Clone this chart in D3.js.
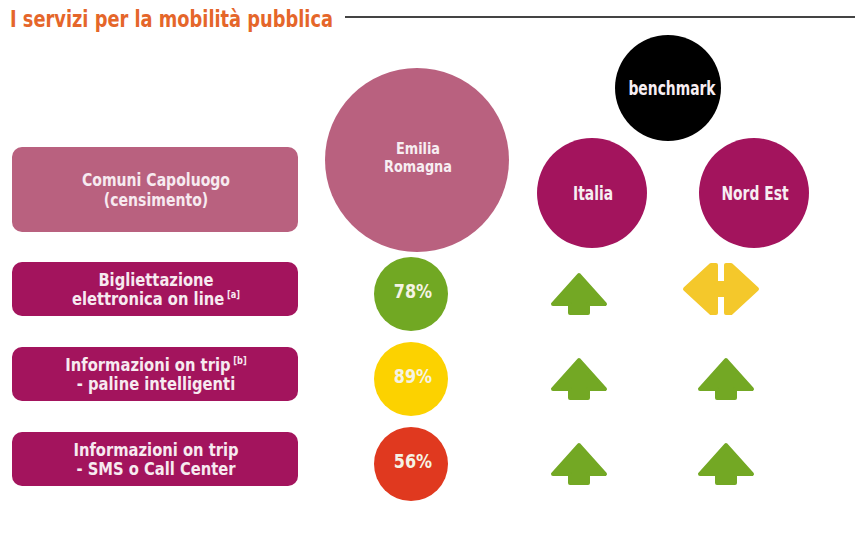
<!DOCTYPE html>
<html>
<head>
<meta charset="utf-8">
<script src="https://cdn.jsdelivr.net/npm/d3@7"></script>
<style>
  body { margin: 0; background: #fff; }
  svg { display: block; font-family: 'DejaVu Sans', sans-serif; font-weight: bold; }
</style>
</head>
<body>
<div id="chart"></div>
<script>
// DATA
const title = 'I servizi per la mobilità pubblica';
const headerLabel = ['Comuni Capoluogo', '(censimento)'];
const columns = ['Emilia Romagna', 'benchmark', 'Italia', 'Nord Est'];
const columnLabels = [['Emilia', 'Romagna'], ['benchmark'], ['Italia'], ['Nord Est']];
const serviceLines = [
  ['Bigliettazione', 'elettronica on line'],
  ['Informazioni on trip', '- paline intelligenti'],
  ['Informazioni on trip', '- SMS o Call Center']
];
const serviceNotes = [[null, '[a]'], ['[b]', null], [null, null]];
const emiliaValues = [78, 89, 56];
const emiliaLevel = ['medium', 'high', 'low'];
const italiaTrend = ['up', 'up', 'up'];
const nordEstTrend = ['equal', 'up', 'up'];

// colours
const pinkLight = '#b9617f';
const magenta = '#a3145d';
const levelColor = d3.scaleOrdinal().domain(['high', 'medium', 'low']).range(['#fcd200', '#71a823', '#e0391f']);
const trendColor = d3.scaleOrdinal().domain(['up', 'equal']).range(['#73a824', '#f4c82b']);
const headerColor = d3.scaleOrdinal().domain(columns).range([pinkLight, '#000', magenta, magenta]);

const width = 855, height = 535;
const svg = d3.select('#chart').append('svg').attr('width', width).attr('height', height);

// TITLE
svg.append('text')
  .attr('x', 10).attr('y', 27)
  .attr('fill', '#e5662a')
  .style('font-size', '23px')
  .attr('textLength', 323).attr('lengthAdjust', 'spacingAndGlyphs')
  .text(title);
svg.append('line')
  .attr('x1', 345).attr('x2', width).attr('y1', 17).attr('y2', 17)
  .attr('stroke', '#444').attr('stroke-width', 2);

// SCALES
// header circles (not aligned on the mark columns in the original)
const headX = d3.scaleOrdinal().domain(columns).range([417, 668, 592, 754]);
const headY = d3.scaleOrdinal().domain(columns).range([160, 88, 193, 193]);
const headR = d3.scaleOrdinal().domain(columns).range([92, 53, 55, 55]);
// mark columns
const colX = d3.scaleOrdinal().domain(['Emilia Romagna', 'Italia', 'Nord Est']).range([411, 579, 726]);
const rowY = d3.scaleLinear().domain([0, 2]).range([289, 459]);
const headerRowY = 189.5;

// text block centred on (cx, cy), squeezed horizontally (the original uses a condensed face)
function textBlock(parent, lines, notes, cx, cy, size, gap, sx, fill) {
  const g = parent.append('g')
    .attr('transform', `translate(${cx},${cy}) scale(${sx},1)`);
  lines.forEach((ln, i) => {
    const t = g.append('text')
      .attr('y', (i - (lines.length - 1) / 2) * gap)
      .attr('dy', '0.35em')
      .attr('text-anchor', 'middle')
      .attr('fill', fill)
      .style('font-size', size + 'px');
    t.append('tspan').text(ln);
    if (notes && notes[i]) {
      t.append('tspan').text(' ' + notes[i])
        .attr('dy', -7)
        .style('font-size', '10px');
    }
  });
  return g;
}

// LABEL BOXES
const boxX = 12, boxW = 286;
const header = svg.append('g');
header.append('rect')
  .attr('x', boxX).attr('y', headerRowY - 42.5)
  .attr('width', boxW).attr('height', 85)
  .attr('rx', 10).attr('fill', pinkLight);
textBlock(header, headerLabel, null, boxX + boxW / 2 + 1, headerRowY, 18.5, 20.5, 0.76, '#f7eaf0');

serviceLines.forEach((lines, i) => {
  const g = svg.append('g');
  g.append('rect')
    .attr('x', boxX).attr('y', rowY(i) - 27)
    .attr('width', boxW).attr('height', 54)
    .attr('rx', 10).attr('fill', magenta);
  textBlock(g, lines, serviceNotes[i], boxX + boxW / 2 + 1, rowY(i), 18, 19, 0.82, '#f7eaf0');
});

// HEADER CIRCLES
svg.selectAll('circle.head')
  .data(columns)
  .join('circle')
  .classed('head', true)
  .attr('cx', d => headX(d))
  .attr('cy', d => headY(d))
  .attr('r', d => headR(d))
  .attr('fill', d => headerColor(d));
columns.forEach((d, i) => {
  const big = d === 'Emilia Romagna';
  textBlock(svg, columnLabels[i], null,
    headX(d) + (d === 'benchmark' ? 4 : 1), headY(d) + (big ? -3 : 0),
    big ? 16.5 : 19, 18.5, big ? 0.78 : 0.73, '#f7eef2');
});

// EMILIA ROMAGNA VALUES
svg.selectAll('circle.val')
  .data(emiliaValues)
  .join('circle')
  .classed('val', true)
  .attr('cx', colX('Emilia Romagna'))
  .attr('cy', (d, i) => rowY(i) + 5)
  .attr('r', 37)
  .attr('fill', (d, i) => levelColor(emiliaLevel[i]));
emiliaValues.forEach((d, i) => {
  textBlock(svg, [d + '%'], null, colX('Emilia Romagna') + 2, rowY(i) + 2, 20, 0, 0.8, '#f5f3e4');
});

// TREND ARROWS
const shapeLine = d3.line().curve(d3.curveLinearClosed);
const upShape = [[0, -19], [26, 10], [9, 10], [9, 19], [-9, 19], [-9, 10], [-26, 10]];
const equalShape = [[-36, 0], [-10, -24], [-5, -24], [-5, -6], [5, -6], [5, -24], [10, -24], [36, 0],
  [10, 24], [5, 24], [5, 6], [-5, 6], [-5, 24], [-10, 24]];

function drawTrends(trend, col, dx) {
  svg.selectAll(null)
    .data(trend)
    .join('path')
    .attr('transform', (d, i) => `translate(${colX(col) + (d === 'equal' ? dx : 0)},${rowY(i) + (d === 'equal' ? 0 : 5)})`)
    .attr('d', d => shapeLine(d === 'up' ? upShape : equalShape))
    .attr('fill', d => trendColor(d))
    .attr('stroke', d => trendColor(d))
    .attr('stroke-width', 4)
    .attr('stroke-linejoin', 'round');
}
drawTrends(italiaTrend, 'Italia', 0);
drawTrends(nordEstTrend, 'Nord Est', -5);
</script>
</body>
</html>
